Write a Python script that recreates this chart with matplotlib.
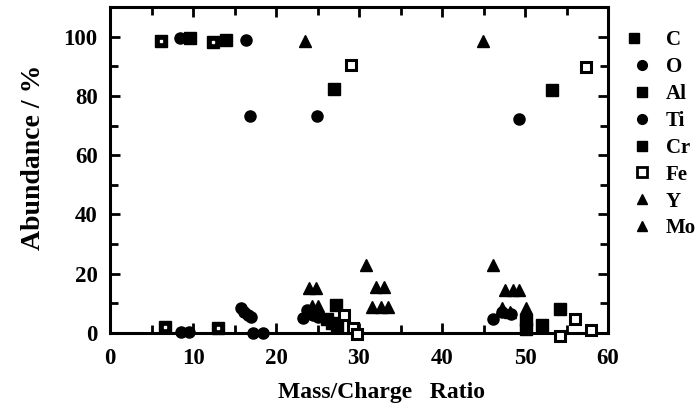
import matplotlib
matplotlib.use("Agg")
import matplotlib.pyplot as plt
from matplotlib.lines import Line2D
from matplotlib.legend_handler import HandlerTuple

plt.rcParams['font.family'] = ['Liberation Serif', 'DejaVu Serif']
plt.rcParams['font.weight'] = 'bold'

# ---- data ----
C_x = [6.2, 12.4, 6.6, 13.0]
C_y = [98.4, 98.3, 2.1, 1.7]
O_x = [8.4, 16.4, 8.6, 9.5, 17.2, 18.4]
O_y = [99.5, 99.0, 0.3, 0.3, 0.0, 0.0]
Al_x = [9.6, 14.0]
Al_y = [99.5, 99.0]
Ti_x = [15.8, 16.2, 16.9, 16.6, 16.95, 23.2, 23.7, 24.9, 24.4, 25.0, 46.1, 47.2, 49.3, 48.3, 50.1]
Ti_y = [8.3, 7.2, 73.2, 6.2, 5.3, 5.2, 7.6, 73.1, 6.0, 5.5, 4.7, 7.0, 72.3, 6.5, 5.4]
Cr_x = [27.0, 27.2, 26.2, 26.8, 27.3, 53.2, 54.2, 50.1, 52.0, 50.1]
Cr_y = [82.4, 9.5, 4.8, 3.5, 2.3, 81.9, 8.1, 4.3, 2.7, 1.5]
Fe_x = [29.0, 28.2, 29.3, 29.8, 57.3, 56.0, 58.0, 54.2]
Fe_y = [90.5, 6.2, 1.8, -0.5, 89.6, 4.7, 1.0, -1.0]
Y_x = [23.5, 44.9]
Y_y = [98.4, 98.4]
Mo_x = [24.0, 24.8, 24.3, 25.0, 30.8, 32.0, 33.0, 31.6, 32.6, 33.5,
        46.1, 47.6, 48.5, 49.3, 47.2, 48.2, 50.1]
Mo_y = [15.2, 15.2, 9.0, 9.0, 23.0, 15.5, 15.5, 8.8, 8.8, 8.8,
        23.0, 14.5, 14.5, 14.5, 8.4, 7.0, 8.4]

x_ticks = [0, 10, 20, 30, 40, 50, 60]
y_ticks = [0, 20, 40, 60, 80, 100]
legend_labels = ['C', 'O', 'Al', 'Ti', 'Cr', 'Fe', 'Y', 'Mo']

fig = plt.figure(figsize=(6.98, 4.15), dpi=100)
ax = fig.add_axes([110/698, 1-333/415, (608-110)/698, (333-7)/415])

ms = 8
kw = dict(linestyle='none', clip_on=False, zorder=3)
ax.plot(C_x, C_y, marker='s', ms=ms, mfc='black', mec='black', **kw)
ax.plot(C_x, C_y, marker='s', ms=2, mfc='white', mec='white', linestyle='none', clip_on=False, zorder=4)
ax.plot(O_x, O_y, marker='o', ms=ms, mfc='black', mec='black', **kw)
ax.plot(Al_x, Al_y, marker='s', ms=ms, mfc='black', mec='black', **kw)
ax.plot(Ti_x, Ti_y, marker='o', ms=ms, mfc='black', mec='black', **kw)
ax.plot(Cr_x, Cr_y, marker='s', ms=ms, mfc='black', mec='black', **kw)
ax.plot(Fe_x, Fe_y, marker='s', ms=ms-1, mfc='white', mec='black', mew=2.2, **kw)
ax.plot(Y_x, Y_y, marker='^', ms=ms+1, mfc='black', mec='black', **kw)
ax.plot(Mo_x, Mo_y, marker='^', ms=ms+1, mfc='black', mec='black', **kw)

ax.set_xlim(0, 60)
ax.set_ylim(0, 110)
ax.set_xticks(x_ticks)
ax.set_yticks(y_ticks)
ax.set_xticks([5, 15, 25, 35, 45, 55], minor=True)
ax.set_yticks([10, 30, 50, 70, 90, 110], minor=True)
ax.tick_params(which='both', direction='in', width=2, top=True, right=True,
               labelsize=16.5)
ax.tick_params(which='major', length=7)
ax.tick_params(axis='x', which='major', pad=11)
ax.tick_params(axis='y', which='major', pad=9)
ax.tick_params(which='minor', length=6)
for s in ax.spines.values():
    s.set_linewidth(2.2)
for lab in ax.get_xticklabels() + ax.get_yticklabels():
    lab.set_fontweight('bold')

ax.set_xlabel('Mass/Charge   Ratio', fontsize=17, fontweight='bold')
ax.xaxis.set_label_coords((381-110)/498, -(392-333)/326, transform=ax.transAxes)
ax.xaxis.label.set_va('center')
ax.set_ylabel('Abundance / %', fontsize=20, fontweight='bold')
ax.yaxis.set_label_coords(-(110-34)/498, (333-157)/326, transform=ax.transAxes)
ax.yaxis.label.set_va('center')

# legend
sq = dict(linestyle='none', ms=7, mec='black')
handles = [
    (Line2D([], [], marker='s', mfc='black', **sq), Line2D([], [], marker='s', ms=2, mfc='white', mec='white', linestyle='none')),
    Line2D([], [], marker='o', mfc='black', **sq),
    Line2D([], [], marker='s', mfc='black', **sq),
    Line2D([], [], marker='o', mfc='black', **sq),
    Line2D([], [], marker='s', mfc='black', **sq),
    Line2D([], [], marker='s', mfc='white', mew=2, **sq),
    Line2D([], [], marker='^', mfc='black', **sq),
    Line2D([], [], marker='^', mfc='black', **sq),
]
leg = fig.legend(handles, legend_labels, loc='upper left', bbox_to_anchor=(623/698, 1-22/415),
                 frameon=False, handler_map={tuple: HandlerTuple(ndivide=None)},
                 prop={'size': 15, 'weight': 'bold'}, labelspacing=0.33,
                 handlelength=1.0, handletextpad=0.65, borderaxespad=0)

fig.savefig('out.png', dpi=100)
